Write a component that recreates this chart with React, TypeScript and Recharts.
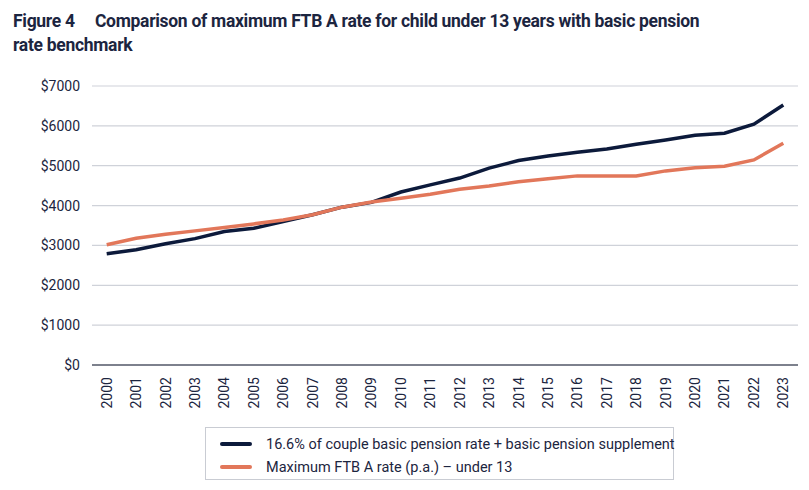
import React from 'react';
import { LineChart, Line, XAxis, YAxis, CartesianGrid } from 'recharts';

const years = ['2000','2001','2002','2003','2004','2005','2006','2007','2008','2009','2010','2011','2012','2013','2014','2015','2016','2017','2018','2019','2020','2021','2022','2023'];
const pensionBenchmark = [2790, 2890, 3040, 3170, 3350, 3430, 3600, 3770, 3960, 4080, 4340, 4520, 4690, 4940, 5130, 5245, 5340, 5420, 5540, 5645, 5765, 5815, 6040, 6525];
const ftbRate = [3015, 3180, 3280, 3365, 3450, 3540, 3640, 3770, 3960, 4090, 4185, 4285, 4410, 4490, 4600, 4670, 4745, 4745, 4745, 4870, 4950, 4985, 5145, 5565];
const yTicks = [0, 1000, 2000, 3000, 4000, 5000, 6000, 7000];

const NAVY = '#0c1a3b';
const ORANGE = '#e2775a';
const TEXT = '#1c2540';
const FONT = 'Roboto, "Noto Sans", sans-serif';

const data = years.map((y, i) => ({ year: y, pension: pensionBenchmark[i], ftb: ftbRate[i] }));

const XTick = (props: any) => {
  const { x, y, payload } = props;
  return (
    <text
      x={x}
      y={y}
      transform={`rotate(-90, ${x}, ${y})`}
      textAnchor="end"
      dominantBaseline="central"
      fontSize={14}
      fill={TEXT}
      fontFamily={FONT}
    >
      {payload.value}
    </text>
  );
};

const LegendBox = () => (
  <div
    style={{
      position: 'absolute',
      left: 205,
      top: 427,
      width: 469,
      height: 53,
      border: '1px solid #c9ccd3',
      boxSizing: 'border-box',
      fontFamily: FONT,
      fontSize: 14.5,
      color: TEXT,
    }}
  >
    {[
      { c: NAVY, t: '16.6% of couple basic pension rate + basic pension supplement' },
      { c: ORANGE, t: 'Maximum FTB A rate (p.a.) \u2013 under 13' },
    ].map((it, i) => (
      <div key={i} style={{ position: 'absolute', left: 14, top: 6 + i * 23, height: 20, display: 'flex', alignItems: 'center' }}>
        <div style={{ width: 32, height: 4, background: it.c, borderRadius: 2, marginRight: 14 }} />
        <span style={{ whiteSpace: 'nowrap' }}>{it.t}</span>
      </div>
    ))}
  </div>
);

export default function App() {
  return (
    <div style={{ position: 'absolute', left: 0, top: 0, width: 809, height: 490, background: '#fff', fontFamily: FONT }}>
      <div
        style={{
          position: 'absolute',
          left: 13,
          top: 9,
          fontSize: 17.5,
          fontWeight: 700,
          color: TEXT,
          lineHeight: '24px',
          letterSpacing: -0.3,
          width: 760,
        }}
      >
        Figure 4&nbsp;&nbsp;&nbsp;&nbsp; Comparison of maximum FTB A rate for child under 13 years with basic pension
        <br />
        rate benchmark
      </div>
      <div style={{ position: 'absolute', left: 0, top: 0 }}>
        <LineChart width={809} height={490} data={data} margin={{ top: 86, right: 11, bottom: 0, left: 0 }}>
          <CartesianGrid vertical={false} stroke="#cfd2d9" strokeWidth={1.2} />
          <XAxis
            dataKey="year"
            interval={0}
            tickLine={false}
            axisLine={{ stroke: '#5a5f6e', strokeWidth: 1.5 }}
            tick={<XTick />}
            tickMargin={6}
            padding={{ left: 14.7, right: 14.7 }}
            height={125}
          />
          <YAxis
            domain={[0, 7000]}
            ticks={yTicks}
            width={92}
            axisLine={false}
            tickLine={false}
            tickMargin={6}
            tickFormatter={(v: number) => `$${v}`}
            tick={{ fontSize: 14, fill: TEXT, fontFamily: FONT }}
          />
          <Line type="linear" dataKey="pension" stroke={NAVY} strokeWidth={3.5} dot={false} isAnimationActive={false} />
          <Line type="linear" dataKey="ftb" stroke={ORANGE} strokeWidth={3.5} dot={false} isAnimationActive={false} />
        </LineChart>
      </div>
      <LegendBox />
    </div>
  );
}
